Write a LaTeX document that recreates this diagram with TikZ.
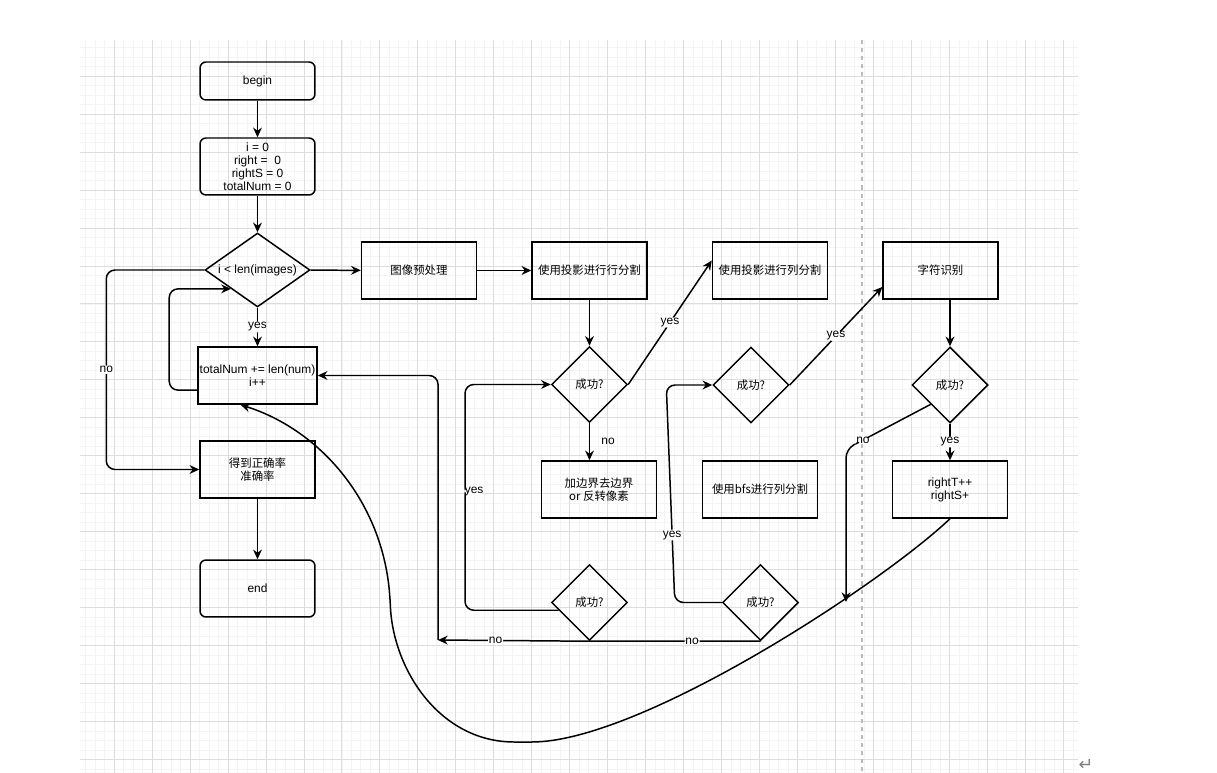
\documentclass[tikz,border=0pt]{standalone}
\usepackage{fontspec}
\setmainfont{Liberation Sans}
\newfontfamily\cjk{Noto Sans CJK SC}
\newfontfamily\symf{DejaVu Sans}
\usetikzlibrary{arrows.meta,calc,shapes.geometric}
\definecolor{gridminor}{HTML}{F4F4F4}
\definecolor{gridmajor}{HTML}{DDDDDD}
\definecolor{divgray}{HTML}{BBBBBB}

\begin{document}
\begin{tikzpicture}[x=0.02cm,y=-0.02cm,font=\fontsize{6.8}{7.4}\selectfont,
  box/.style={draw,line width=0.85pt,minimum width=2.3cm,minimum height=1.14cm,align=center,inner sep=1pt},
  term/.style={box,rounded corners=0.12cm},
  cond/.style={draw,diamond,aspect=1,line width=0.85pt,minimum width=1.52cm,minimum height=1.52cm,inner sep=0pt},
  zh/.style={font=\fontsize{6.5}{7.4}\selectfont\cjk},
  conn/.style={line width=0.85pt,rounded corners=5pt},
  arr/.style={conn,-{Stealth[length=5.5pt,width=5pt]}},
  lbl/.style={fill=white,inner sep=0.5pt}]
  \useasboundingbox[fill=white] (0,0) rectangle (1217,773);
  % background grid of the canvas
  \draw[gridminor,line width=0.5pt,step=0.19cm] (80,773) grid (1078,40);
  \draw[gridmajor,line width=0.5pt,step=0.76cm] (80,773) grid (1078,40);
  \draw[divgray,line width=0.6pt,dash pattern=on 2.3pt off 2.3pt] (862,40) -- (862,773);
  \node[text=gray,font=\symf\fontsize{10}{10}\selectfont] (pilcrow) at (1086,765) {↵};

  % main loop column
  \node[term,minimum height=0.76cm] (begin) at (257.5,81) {begin};
  \node[term] (init) at (257.5,166.5) {i = 0\\right =\ \ 0\\rightS = 0\\totalNum = 0};
  \node[cond,aspect=1.42,minimum width=2.1cm,minimum height=1.48cm] (loop) at (257.5,270) {i < len(images)};
  \node[box] (count) at (257.5,375.5) {totalNum += len(num)\\i++};
  \node[box,zh] (rate) at (257.5,469.5) {得到正确率\\准确率};
  \node[term] (end) at (257.5,588.5) {end};

  % processing row
  \node[box,zh] (prep) at (419,270.5) {图像预处理};
  \node[box,zh] (rowcut) at (589.5,270.5) {使用投影进行行分割};
  \node[box,zh] (colcut) at (770,270.5) {使用投影进行列分割};
  \node[box,zh] (ocr) at (940.5,270.5) {字符识别};

  \node[cond,zh] (rowok) at (589.5,384.5) {成功?};
  \node[cond,zh] (colok) at (751,385) {成功?};
  \node[cond,zh] (ocrok) at (950,385) {成功?};
  \node[box,zh] (fix) at (599,489.5) {加边界去边界\\or 反转像素};
  \node[box,zh] (bfs) at (760,489.5) {使用bfs进行列分割};
  \node[box] (hit) at (950,489.5) {rightT++\\rightS+};
  \node[cond,zh] (fixok) at (589.5,602.5) {成功?};
  \node[cond,zh] (bfsok) at (760.5,602.5) {成功?};

  \coordinate (nojoin) at (438,640);
  \coordinate (ocrmiss) at (846,602);
  \coordinate (backin) at ($(count.south)+(-17,0)$);

  \draw[arr] (begin) -- (init);
  \draw[arr] (init) -- (loop);
  \draw[arr] (loop) -- (prep);
  \draw[arr] (prep) -- (rowcut);
  \draw[arr] (rowcut) -- (rowok);
  \draw[arr] (loop) -- node[lbl]{yes} (count);
  \draw[arr] (loop.west) -- ++(-98,0) |- node[lbl,pos=0.25]{no} (rate.west);
  \draw[arr] ($(count.south west)!0.25!(count.north west)$) -- ++(-28,0) |- (loop.south west);
  \draw[arr] (rate) -- (end);

  \draw[arr] (rowok) -- node[right,xshift=3pt]{no} (rowok.south |- fix.north);
  \draw[arr] (rowok.east) -- node[lbl]{yes} ($(colcut.west)+(0,-10)$);
  \draw[arr] (colok.east) -- node[lbl]{yes} ($(ocr.west)+(0,16.5)$);
  \draw[arr] (ocrok.north |- ocr.south) -- (ocrok);
  \draw[arr] (ocrok) -- node[lbl]{yes} (hit);
  \draw[arr] (ocrok.south west) -- node[lbl,pos=0.8]{no} ($(ocrmiss)+(0,-153)$) -- (ocrmiss);

  \draw[arr] ($(fixok.west)!0.2!(fixok.south)$) -- ++(-93.5,0) |- node[lbl,anchor=west,pos=0.264,xshift=-1pt]{yes} (rowok.west);
  \draw[arr] (bfsok.west) -- ++(-47,0) -- node[lbl,pos=0.31]{yes} ($(colok.west)+(-46,0)$) -- (colok.west);
  \draw[arr] (bfsok.south) -- node[lbl,pos=0.4]{no} (fixok.south) -- node[lbl,pos=0.62]{no} (nojoin);
  \draw[arr] (nojoin) |- (count.east);

  \draw[arr] (hit.south) .. controls (880,585) and (640,742) .. (523,742)
    .. controls (440,742) and (393,670) .. (390,597)
    .. controls (380,500) and (320,430) .. (backin);
\end{tikzpicture}
\end{document}
